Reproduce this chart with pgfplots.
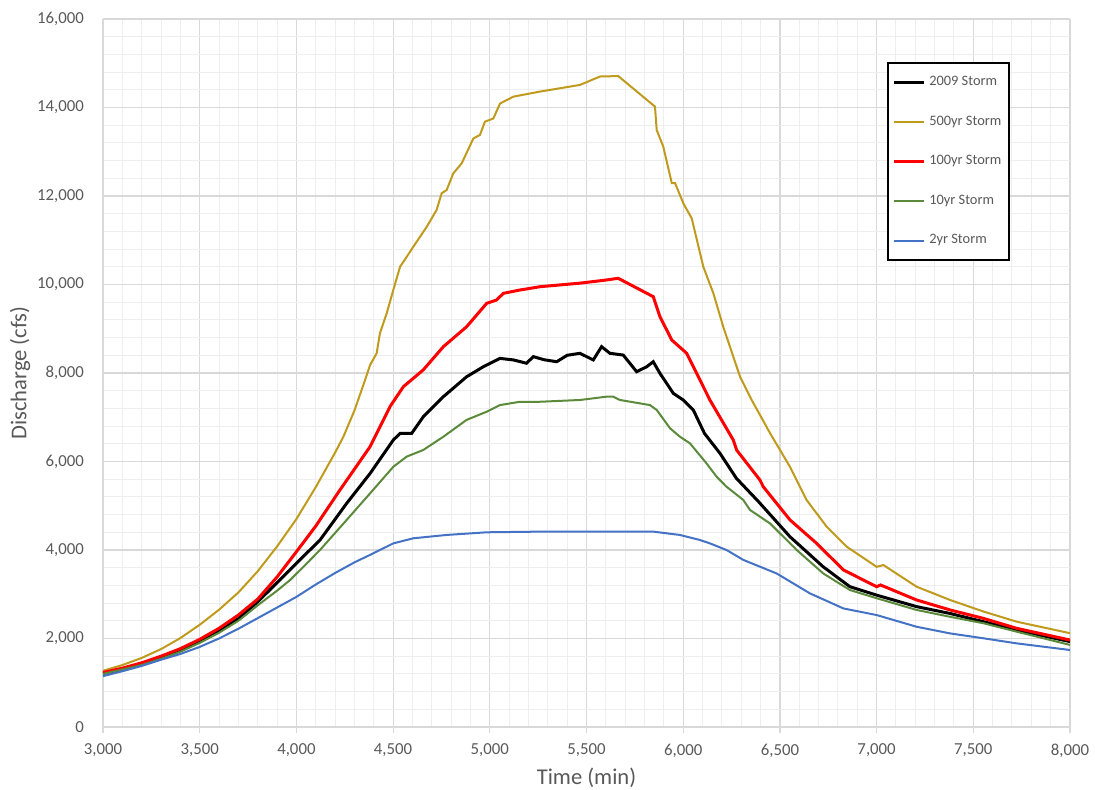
\documentclass[border=0pt]{standalone}
\usepackage{fontspec}
\setmainfont{Carlito}
\usepackage{pgfplots}
\pgfplotsset{compat=1.18}

\definecolor{txtgray}{HTML}{595959}
\definecolor{gridmaj}{HTML}{D9D9D9}
\definecolor{gridmin}{HTML}{EEEEEE}
\definecolor{storm500}{HTML}{BF9A1C}
\definecolor{storm10}{HTML}{5A8A3A}
\definecolor{storm2}{HTML}{4472C4}

\begin{document}
\begin{tikzpicture}
\path[use as bounding box] (-51.5pt,-31.5pt) rectangle (496pt,363.5pt);
\begin{axis}[
  at={(0,0)}, anchor=south west,
  scale only axis, width=483.5pt, height=354pt,
  xmin=3000, xmax=8000, ymin=0, ymax=16000,
  xtick={3000,3500,...,8000}, ytick={0,2000,...,16000},
  scaled ticks=false,
  minor x tick num=4, minor y tick num=4,
  grid=both,
  major grid style={gridmaj, line width=0.6pt},
  minor grid style={gridmin, line width=0.5pt},
  axis x line*=bottom, axis y line*=left,
  axis line style={gridmaj, line width=0.6pt},
  x axis line style={-}, y axis line style={-},
  tick align=outside, major tick length=3pt, minor tick length=0pt,
  xtick style={gridmaj, line width=0.6pt}, ytick style={draw=none},
  /pgf/number format/.cd, 1000 sep={,}, assume math mode=true, /pgfplots/.cd,
  tick label style={font=\fontsize{8.4}{10}\selectfont, text=txtgray},
  yticklabel style={xshift=-3pt},
  xticklabel style={yshift=-2pt},
  xlabel={Time (min)}, ylabel={Discharge (cfs)},
  every axis x label/.style={at={(axis description cs:0.5,0)}, anchor=center,
    yshift=-25.5pt, font=\fontsize{11.3}{13}\selectfont, text=txtgray},
  every axis y label/.style={at={(axis description cs:0,0.5)}, rotate=90, anchor=center,
    yshift=41.5pt, font=\fontsize{11.3}{13}\selectfont, text=txtgray},
  legend cell align=left,
  legend style={at={(0.811,0.939)}, anchor=north west, draw=black, line width=1pt,
    font=\fontsize{7.2}{8.5}\selectfont, text=txtgray, row sep=9.6pt,
    inner xsep=2pt, inner ysep=4.5pt},
  legend image code/.code={\draw[#1] (0pt,0pt) -- (15pt,0pt);},
]
\addplot[black, line width=1.5pt] coordinates {
(3000,1210) (3100,1310) (3200,1430) (3300,1570) (3400,1740) (3500,1940) (3600,2170)
(3700,2450) (3800,2830) (3900,3260) (4000,3700) (4122,4225) (4260,5055) (4381,5730)
(4501,6485) (4536,6635) (4596,6635)
(4656,7010) (4760,7465) (4880,7915) (4966,8140) (5053,8330) (5122,8295) (5190,8220)
(5225,8370) (5280,8300) (5346,8255) (5400,8400) (5466,8445) (5535,8295) (5578,8595)
(5621,8445) (5690,8405) (5759,8030) (5811,8140) (5845,8255) (5880,7990) (5949,7540)
(6000,7390) (6052,7165) (6110,6635) (6190,6185) (6275,5620) (6390,5090) (6552,4300)
(6724,3620) (6862,3170) (7000,2980) (7207,2720) (7380,2565) (7552,2380) (7724,2190)
(8000,1930)};
\addplot[storm500, line width=1pt] coordinates {
(3000,1270) (3100,1400) (3200,1560) (3300,1760) (3400,2010) (3500,2310) (3600,2650)
(3700,3040) (3800,3520) (3900,4080) (4000,4700) (4100,5420) (4200,6200) (4243,6560)
(4300,7150) (4355,7840) (4381,8180) (4415,8445)
(4432,8900) (4467,9350) (4501,9875) (4536,10400) (4605,10855) (4674,11305) (4725,11685)
(4751,12060) (4777,12135) (4811,12510) (4855,12740) (4915,13300) (4949,13380)
(4975,13680) (5018,13750) (5053,14090) (5122,14245) (5260,14360) (5466,14510)
(5570,14700) (5664,14710) (5854,14020) (5863,13490) (5897,13115) (5941,12290)
(5958,12290) (6001,11830) (6044,11495) (6104,10400) (6156,9800) (6207,9045)
(6294,7915) (6354,7390) (6449,6640) (6552,5880) (6638,5130) (6742,4525) (6845,4075)
(7000,3620) (7035,3660) (7207,3170) (7380,2870) (7552,2610) (7724,2380) (8000,2120)};
\addplot[red, line width=1.5pt] coordinates {
(3000,1230) (3100,1330) (3200,1450) (3300,1600) (3400,1770) (3500,1980) (3600,2230)
(3700,2530) (3800,2890) (3900,3390) (4000,3960) (4100,4540) (4225,5355) (4381,6335)
(4484,7240) (4553,7690) (4656,8070)
(4760,8595) (4880,9045) (4984,9575) (5035,9650) (5070,9800) (5156,9875) (5260,9950)
(5466,10030) (5600,10100) (5664,10140) (5845,9725) (5880,9270) (5941,8745) (6018,8445)
(6052,8145) (6121,7540) (6138,7390) (6259,6485) (6276,6260) (6397,5580) (6414,5430)
(6552,4680) (6690,4150) (6828,3550) (7000,3170) (7020,3210) (7207,2870) (7380,2645)
(7552,2455) (7724,2230) (8000,1965)};
\addplot[storm10, line width=1pt] coordinates {
(3000,1200) (3100,1300) (3200,1400) (3300,1540) (3400,1700) (3500,1900) (3600,2130)
(3700,2400) (3800,2750) (3900,3080) (3967,3320) (4050,3680)
(4122,4000) (4260,4680) (4381,5280) (4501,5880) (4570,6110) (4656,6260) (4760,6560)
(4880,6940) (4984,7125) (5053,7275) (5156,7350) (5260,7350) (5466,7390) (5604,7465)
(5638,7465) (5673,7390) (5828,7275) (5863,7165) (5932,6750) (5983,6560) (6035,6410)
(6121,5955) (6173,5655) (6224,5430) (6311,5130) (6345,4905) (6449,4600) (6587,4000)
(6724,3470) (6862,3095) (7000,2910) (7207,2645) (7380,2490) (7552,2345) (7724,2155)
(8000,1855)};
\addplot[storm2, line width=1pt] coordinates {
(3000,1150) (3100,1260) (3200,1380) (3300,1520) (3400,1650) (3500,1810) (3600,2000)
(3700,2220) (3800,2460) (3900,2700) (4000,2940) (4100,3220) (4200,3480) (4300,3720)
(4400,3930) (4501,4150) (4605,4265) (4777,4340) (4984,4400) (5260,4415) (5845,4415)
(5983,4340) (6087,4225) (6138,4150) (6224,4000) (6311,3775) (6483,3470) (6655,3020)
(6828,2680) (7000,2530) (7207,2265) (7380,2115) (7552,2005) (7724,1890) (8000,1740)};
\legend{2009 Storm, 500yr Storm, 100yr Storm, 10yr Storm, 2yr Storm}
\end{axis}
\end{tikzpicture}
\end{document}
